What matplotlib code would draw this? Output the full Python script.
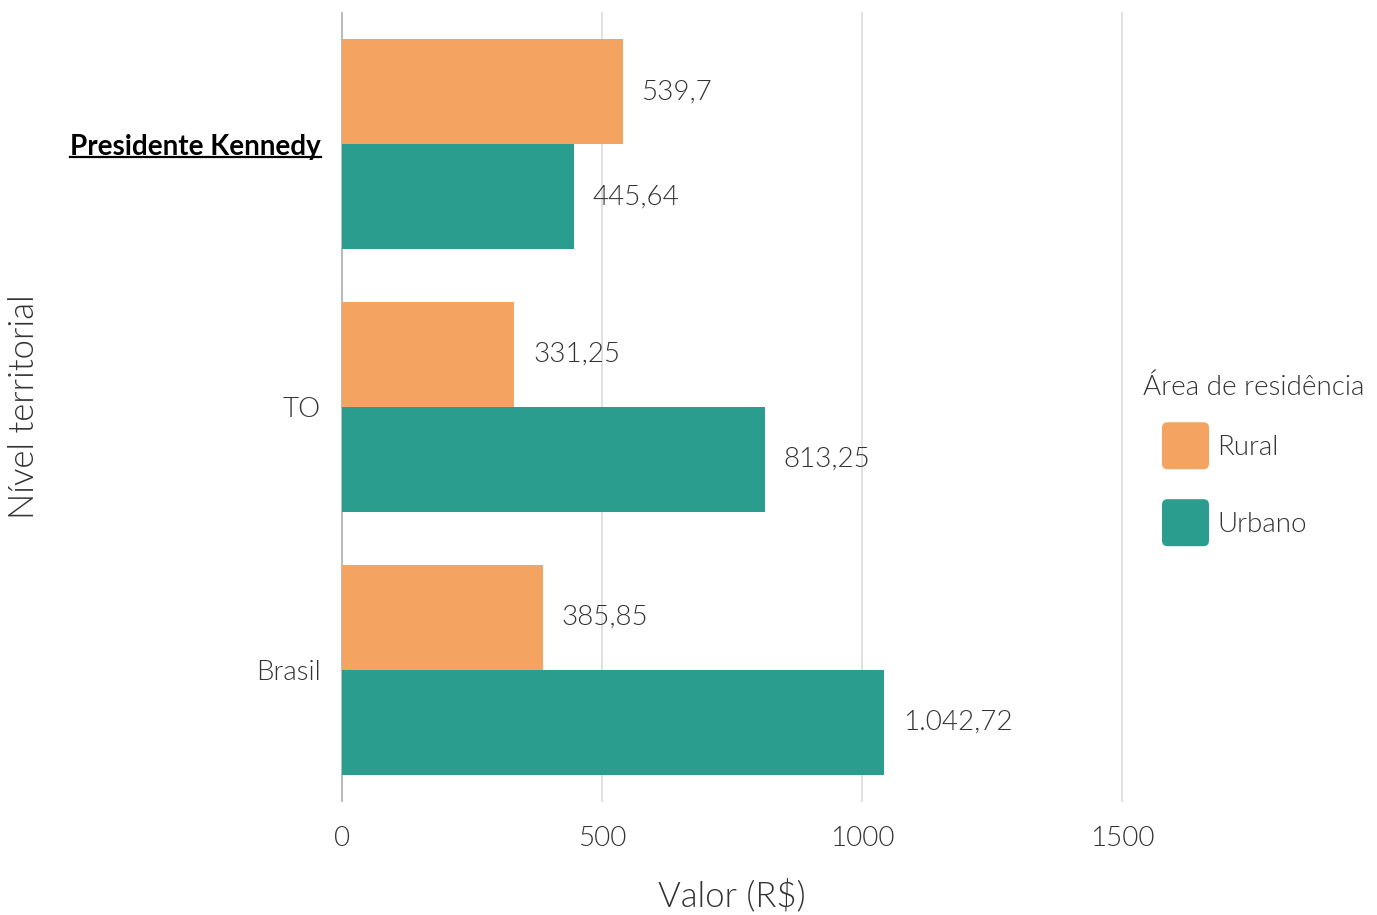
import matplotlib
matplotlib.use("Agg")
from matplotlib import pyplot as plt
from matplotlib.patches import FancyBboxPatch, Patch
from matplotlib.legend_handler import HandlerPatch
from matplotlib.lines import Line2D
import numpy as np

# data
niveis = ['Presidente Kennedy', 'TO', 'Brasil']
rural = [539.7, 331.25, 385.85]
urbano = [445.64, 813.25, 1042.72]
series_names = ['Rural', 'Urbano']
x_ticks = [0, 500, 1000, 1500]

c_rural = '#F4A460'
c_urbano = '#2A9D8F'
txt_color = '#333333'
LIGHT = 300

plt.rcParams['font.family'] = ['Lato', 'DejaVu Sans']
plt.rcParams['font.weight'] = LIGHT
plt.rcParams['axes.labelweight'] = LIGHT


def fmt_br(v):
    s = '{:,.2f}'.format(v)
    s = s.replace(',', 'X').replace('.', ',').replace('X', '.')
    s = s.rstrip('0').rstrip(',')
    return s


class HandlerRound(HandlerPatch):
    # square with rounded corners, centered on the text row
    def create_artists(self, legend, orig_handle, xdescent, ydescent,
                       width, height, fontsize, trans):
        yc = -ydescent + height / 2
        p = FancyBboxPatch((-xdescent, yc - width / 2), width, width,
                           boxstyle='round,pad=0,rounding_size=4',
                           facecolor=orig_handle.get_facecolor(),
                           edgecolor='none', transform=trans)
        return [p]


W, H = 1377, 915
fig = plt.figure(figsize=(W / 100, H / 100), dpi=100)
ax_l, ax_r, ax_t, ax_b = 342, 1122, 13, 801
ax = fig.add_axes([ax_l / W, 1 - ax_b / H, (ax_r - ax_l) / W, (ax_b - ax_t) / H])

y = np.arange(len(niveis))
bh = 0.4
ax.barh(y - bh / 2, rural, height=bh, color=c_rural, zorder=2)
ax.barh(y + bh / 2, urbano, height=bh, color=c_urbano, zorder=2)

for yi, v in zip(y, rural):
    ax.annotate(fmt_br(v), (v, yi - bh / 2), xytext=(13.5, 0), textcoords='offset points',
                va='center', ha='left', fontsize=20, color=txt_color, fontweight=LIGHT)
for yi, v in zip(y, urbano):
    ax.annotate(fmt_br(v), (v, yi + bh / 2), xytext=(13.5, 0), textcoords='offset points',
                va='center', ha='left', fontsize=20, color=txt_color, fontweight=LIGHT)

ax.set_xlim(0, 1500)
ax.set_ylim(len(niveis) - 0.5, -0.5)
ax.set_xticks(x_ticks)
ax.set_xticklabels([str(t) for t in x_ticks])
ax.set_yticks(y)
ax.set_yticklabels(niveis)

for t in x_ticks:
    ax.axvline(t, color='#b3b3b3' if t == 0 else '#dddddd', linewidth=1.3, zorder=1,
               clip_on=False)

for s in ax.spines.values():
    s.set_visible(False)
ax.tick_params(axis='both', length=0, labelsize=20, colors=txt_color)
ax.tick_params(axis='x', pad=18)
ax.tick_params(axis='y', pad=15)
for lb in ax.get_xticklabels() + ax.get_yticklabels():
    lb.set_fontweight(LIGHT)

lbl_pk = ax.get_yticklabels()[0]
lbl_pk.set_fontweight('bold')
lbl_pk.set_color('black')

ax.set_xlabel('Valor (R$)', fontsize=25, color=txt_color, labelpad=20)
ax.set_ylabel('Nível territorial', fontsize=25, color=txt_color)
ax.yaxis.set_label_coords(-(ax_l - 40) / (ax_r - ax_l), 0.5)

fs_px = 20 * 100 / 72
handles = [Patch(facecolor=c_rural), Patch(facecolor=c_urbano)]
leg = fig.legend(handles, series_names, loc='upper left',
                 bbox_to_anchor=(1162 / W, 1 - 427 / H), frameon=False,
                 fontsize=20, handlelength=47 / fs_px, handleheight=1.7,
                 handletextpad=0.3, labelspacing=1.42, borderpad=0,
                 borderaxespad=0, handler_map={Patch: HandlerRound()},
                 labelcolor=txt_color)
for t in leg.get_texts():
    t.set_fontweight(LIGHT)
fig.text(1143 / W, 1 - 387 / H, 'Área de residência', fontsize=20,
         color=txt_color, ha='left', va='center', fontweight=LIGHT)

# underline the municipality label
fig.canvas.draw()
bb = lbl_pk.get_window_extent()
inv = fig.transFigure.inverted()
(x0, y0), (x1, _) = inv.transform([(bb.x0, bb.y0), (bb.x1, bb.y0)])
fig.add_artist(Line2D([x0, x1], [y0 + 3 / H, y0 + 3 / H], color='black',
                      linewidth=1.6, transform=fig.transFigure))

fig.savefig('out.png', dpi=100)
